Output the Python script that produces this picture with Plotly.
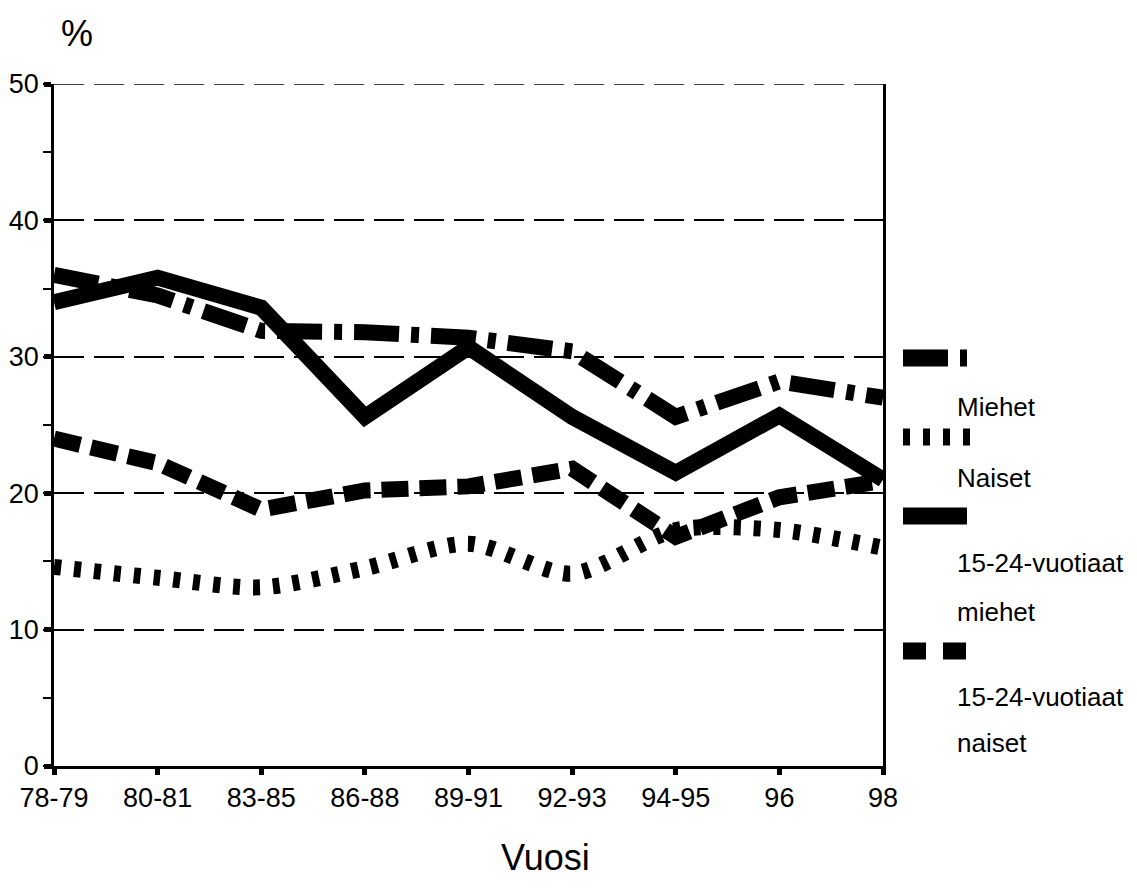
import plotly.graph_objects as go

categories = ["78-79", "80-81", "83-85", "86-88", "89-91", "92-93", "94-95", "96", "98"]
miehet = [36.0, 34.5, 31.9, 31.8, 31.4, 30.4, 25.6, 28.2, 27.0]
naiset = [14.6, 13.8, 13.1, 14.5, 16.3, 14.1, 17.3, 17.3, 16.0]
miehet_15_24 = [34.0, 35.8, 33.6, 25.6, 30.7, 25.6, 21.5, 25.7, 21.0]
naiset_15_24 = [24.0, 22.2, 18.8, 20.2, 20.5, 21.8, 16.8, 19.7, 20.9]

y_ticks = [0, 10, 20, 30, 40, 50]

FONT = "Liberation Sans, Arial, sans-serif"
OFF = 8  # page body margin
W, H = 1137 - 2 * OFF, 894 - 2 * OFF
# target plot area in page pixels: x 54..883, y 84..766
PX0, PX1, PY0, PY1 = 54, 883, 84, 766
L = PX0 - OFF
T = PY0 - OFF
R = W - (PX1 - OFF)
B = H - (PY1 - OFF)
PW = PX1 - PX0
PH = PY1 - PY0


def px_x(p):
    return (p - PX0) / PW


def px_y(p):
    return (PY1 - p) / PH


series = [
    (miehet, "45px,12px,8px,12px", "linear"),
    (naiset, "7px,13px", "spline"),
    (miehet_15_24, "solid", "linear"),
    (naiset_15_24, "27px,11px", "linear"),
]

fig = go.Figure()
for vals, dash, shape in series:
    fig.add_trace(go.Scatter(
        x=categories, y=vals, mode="lines",
        line=dict(color="black", width=16, dash=dash, shape=shape, smoothing=0.8),
        showlegend=False, hoverinfo="skip", cliponaxis=True,
    ))

# top gridline (at the axis maximum)
shapes = [dict(type="line", xref="paper", yref="y", x0=0, x1=1,
               y0=max(y_ticks), y1=max(y_ticks),
               line=dict(color="black", width=1.5, dash="30px,10px"), layer="below")]

# custom legend
sym_rows = [
    (358, 903, 967, "45px,12px,7px,12px"),
    (437, 903, 970, "7px,13px"),
    (516, 903, 967, "solid"),
    (651, 903, 967, "23px,17px"),
]
for yy, xa, xb, dash in sym_rows:
    shapes.append(dict(type="line", xref="paper", yref="paper",
                       x0=px_x(xa), x1=px_x(xb), y0=px_y(yy), y1=px_y(yy),
                       line=dict(color="black", width=17, dash=dash)))

text_rows = [
    (407, "Miehet"),
    (478, "Naiset"),
    (563, "15-24-vuotiaat"),
    (612, "miehet"),
    (697, "15-24-vuotiaat"),
    (743, "naiset"),
]
annotations = []
for yy, txt in text_rows:
    annotations.append(dict(xref="paper", yref="paper", x=px_x(955), y=px_y(yy),
                            text=txt, showarrow=False, xanchor="left", yanchor="middle",
                            font=dict(family=FONT, size=26, color="black")))

annotations.append(dict(xref="paper", yref="paper", x=px_x(77), y=px_y(33),
                        text="%", showarrow=False, xanchor="center", yanchor="middle",
                        font=dict(family=FONT, size=36, color="black")))
annotations.append(dict(xref="paper", yref="paper", x=px_x(545), y=px_y(858),
                        text="Vuosi", showarrow=False, xanchor="center", yanchor="middle",
                        font=dict(family=FONT, size=36, color="black")))

fig.update_layout(
    width=W, height=H,
    margin=dict(l=L, r=R, t=T, b=B, pad=0, autoexpand=False),
    paper_bgcolor="white", plot_bgcolor="white",
    showlegend=False,
    shapes=shapes, annotations=annotations,
    font=dict(family=FONT, size=27, color="black"),
)
fig.update_xaxes(
    type="category", range=[0, len(categories) - 1], automargin=False,
    showgrid=False, showline=True, linecolor="black", linewidth=2.5,
    ticks="outside", ticklen=6, tickwidth=5, tickcolor="black",
    tickfont=dict(family=FONT, size=27, color="black"),
    zeroline=False,
)
fig.update_yaxes(
    range=[0, 50], tickvals=y_ticks, ticktext=[str(v) for v in y_ticks], automargin=False,
    showgrid=True, gridcolor="black", gridwidth=1.5, griddash="30px,10px",
    showline=True, mirror=True, linecolor="black", linewidth=2.5,
    ticks="outside", ticklen=7, tickwidth=5, tickcolor="black",
    minor=dict(ticks="outside", dtick=5, ticklen=8, tickwidth=2, tickcolor="black", showgrid=False),
    tickfont=dict(family=FONT, size=27, color="black"),
    zeroline=False,
)

fig.write_html("out.html")
